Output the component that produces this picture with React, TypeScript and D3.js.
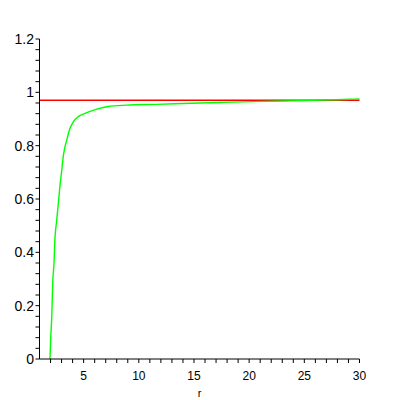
import React from "react";
import * as d3 from "d3";

const rValues = [1.95, 2.02, 2.11, 2.2, 2.32, 2.38, 2.56, 2.71, 2.86, 3.02, 3.11, 3.25, 3.47, 3.71, 4.07, 4.52, 5.13, 6.2, 7.2, 8.9, 11.6, 14.7, 17.7, 21.3, 25.8, 29.2, 30];
const fValues = [0, 0.082, 0.157, 0.289, 0.364, 0.435, 0.521, 0.585, 0.652, 0.709, 0.746, 0.784, 0.821, 0.859, 0.89, 0.909, 0.921, 0.937, 0.947, 0.952, 0.955, 0.959, 0.9625, 0.966, 0.97, 0.974, 0.975];
const asymptote = 0.97;
const xTickLabels = [5, 10, 15, 20, 25, 30];
const yTickLabels = [0, 0.2, 0.4, 0.6, 0.8, 1, 1.2];
const xLabel = "r";

export default function App() {
  const x = d3.scaleLinear().domain([1, 30]).range([39.5, 359.5]);
  const y = d3.scaleLinear().domain([0, 1.2]).range([359, 39]);
  const minorX = d3.range(2, 31, 1);
  const minorY = d3.range(0, 1.2001, 0.04);
  const pts = rValues.map((r, i) => [r, fValues[i]] as [number, number]);
  const line = d3
    .line<[number, number]>()
    .x((d) => x(d[0]))
    .y((d) => y(d[1]))
    .curve(d3.curveMonotoneX);
  const font = "'Liberation Sans', Arial, sans-serif";
  return (
    <div style={{ position: "fixed", left: 0, top: 0 }}>
      <svg width={400} height={400} style={{ display: "block", background: "#fff" }}>
        <line x1={x(1)} x2={x(30)} y1={y(asymptote)} y2={y(asymptote)} stroke="#ff0000" strokeWidth={1.5} />
        <path d={line(pts) || ""} fill="none" stroke="#00ff00" strokeWidth={1.4} />
        <line x1={x(1)} x2={x(1)} y1={y(0)} y2={y(1.2)} stroke="#000" strokeWidth={1} />
        <line x1={x(1)} x2={x(30)} y1={y(0)} y2={y(0)} stroke="#000" strokeWidth={1} />
        {minorX.map((v) => (
          <line key={"xt" + v} x1={x(v)} x2={x(v)} y1={y(0)} y2={y(0) + 4} stroke="#000" strokeWidth={1} />
        ))}
        {minorY.map((v, i) => (
          <line key={"yt" + i} x1={x(1) - 4} x2={x(1)} y1={y(v)} y2={y(v)} stroke="#000" strokeWidth={1} />
        ))}
        {xTickLabels.map((v) => (
          <text key={"xl" + v} x={x(v)} y={380} textAnchor="middle" fontFamily={font} fontSize={12} fill="#000">
            {v}
          </text>
        ))}
        {yTickLabels.map((v) => (
          <text key={"yl" + v} x={34} y={y(v)} dy="0.35em" textAnchor="end" fontFamily={font} fontSize={14} fill="#000">
            {v}
          </text>
        ))}
        <text x={(x(1) + x(30)) / 2} y={397} textAnchor="middle" fontFamily={font} fontSize={11} fill="#000">
          {xLabel}
        </text>
      </svg>
    </div>
  );
}
